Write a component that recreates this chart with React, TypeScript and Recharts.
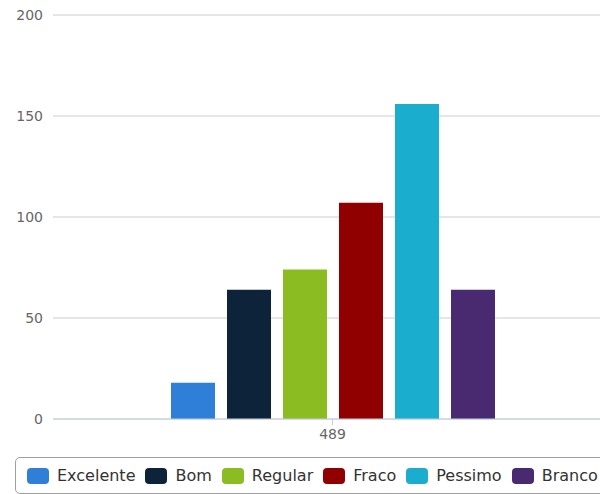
import React from "react";
import { BarChart, Bar, XAxis, YAxis, CartesianGrid, Legend } from "recharts";

const categories = ["489"];
const seriesNames = ["Excelente", "Bom", "Regular", "Fraco", "Pessimo", "Branco"];
const seriesValues = [18, 64, 74, 107, 156, 64];
const seriesColors = ["#2f7ed8", "#0d233a", "#8bbc21", "#910000", "#1aadce", "#492970"];
const yTicks = [0, 50, 100, 150, 200];

const data = categories.map((c) => {
  const row: Record<string, string | number> = { category: c };
  seriesNames.forEach((n, i) => {
    row[n] = seriesValues[i];
  });
  return row;
});

const FONT = "'DejaVu Sans', Verdana, sans-serif";

const renderLegend = (props: any) => {
  const payload = [...(props.payload || [])].sort(
    (a: any, b: any) => seriesNames.indexOf(a.value) - seriesNames.indexOf(b.value)
  );
  return (
    <div
      style={{
        boxSizing: "border-box",
        width: 620,
        height: 37,
        border: "1px solid #a0a0a0",
        borderRadius: 5,
        display: "flex",
        alignItems: "center",
        paddingLeft: 11,
        fontFamily: FONT,
        fontSize: 16,
        color: "#333",
        whiteSpace: "nowrap",
        background: "#fff",
      }}
    >
      {payload.map((p: any, i: number) => (
        <div key={i} style={{ display: "flex", alignItems: "center", marginRight: 10 }}>
          <span
            style={{
              display: "inline-block",
              width: 22,
              height: 16,
              borderRadius: 4,
              background: p.color,
              marginRight: 8,
            }}
          />
          <span>{p.value}</span>
        </div>
      ))}
    </div>
  );
};

export default function App() {
  return (
    <div
      style={{
        position: "fixed",
        left: 0,
        top: 0,
        width: 600,
        height: 494,
        overflow: "hidden",
        background: "#fff",
      }}
    >
      <BarChart
        width={612}
        height={494}
        data={data}
        margin={{ top: 15, right: 0, left: 0, bottom: 45 }}
        barSize={44}
        barGap={12}
      >
        <CartesianGrid vertical={false} stroke="#cccccc" />
        <XAxis
          dataKey="category"
          height={30}
          axisLine={{ stroke: "#c0d0e0" }}
          tickLine={{ stroke: "#c0d0e0" }}
          tickSize={6}
          tickMargin={4}
          tick={{ fill: "#666", fontSize: 14, fontFamily: FONT }}
        />
        <YAxis
          width={53}
          domain={[0, 200]}
          ticks={yTicks}
          axisLine={false}
          tickLine={false}
          tickSize={6}
          tickMargin={4}
          tick={{ fill: "#666", fontSize: 14, fontFamily: FONT }}
        />
        <Legend
          layout="horizontal"
          verticalAlign="middle"
          align="center"
          content={renderLegend}
          wrapperStyle={{ left: 15, top: 457, width: 620, bottom: "auto", right: "auto" }}
        />
        {seriesNames.map((n, i) => (
          <Bar key={n} dataKey={n} name={n} fill={seriesColors[i]} isAnimationActive={false} />
        ))}
      </BarChart>
    </div>
  );
}
